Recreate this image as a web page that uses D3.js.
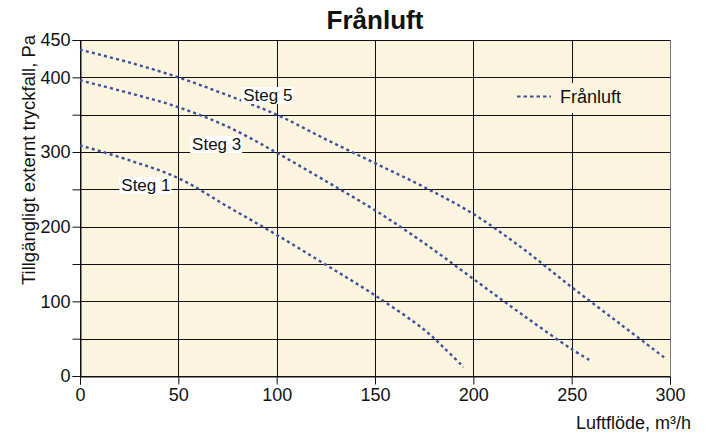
<!DOCTYPE html>
<html><head><meta charset="utf-8">
<script src="https://cdn.jsdelivr.net/npm/d3@7"></script>
<style>body{margin:0;background:#fff}svg{display:block;font-family:"Liberation Sans",Arial,sans-serif}</style>
</head><body>
<svg id="c" width="707" height="437"></svg>
<script>
const title = "Frånluft";
const xLabel = "Luftflöde, m³/h";
const yLabel = "Tillgängligt externt tryckfall, Pa";
const xTicks = [0, 50, 100, 150, 200, 250, 300];
const yTicks = [0, 50, 100, 150, 200, 250, 300, 350, 400, 450];
const yTickLabels = [0, 100, 200, 300, 400, 450];
const seriesNames = ["Steg 1", "Steg 3", "Steg 5"];
const steg1 = [[0,309],[25,289],[50,265],[75,227],[100,189],[125,149],[150,108],[175,62],[185,38],[195,12]];
const steg3 = [[0,396],[25,379],[50,360],[75,334],[100,299],[125,261],[150,222],[175,178],[200,130],[225,82],[250,36],[260,20]];
const steg5 = [[0,437],[25,420],[50,400],[75,376],[100,350],[125,317],[150,285],[175,253],[200,217],[225,171],[250,119],[275,69],[297,25]];
const legendLabel = "Frånluft";

const svg = d3.select("#c");
const x = d3.scaleLinear().domain([0,300]).range([80,670]);
const y = d3.scaleLinear().domain([0,450]).range([376,40]);
const bg = "#fbf4de";
const lineColor = "#3d4f9f";

svg.append("rect").attr("x",x(0)).attr("y",y(450)).attr("width",x(300)-x(0)).attr("height",y(0)-y(450)).attr("fill",bg);

// grid
svg.append("g").selectAll("line").data(yTicks).join("line")
  .attr("x1",x(0)).attr("x2",x(300)).attr("y1",d=>Math.round(y(d))+0.5).attr("y2",d=>Math.round(y(d))+0.5)
  .attr("stroke","#111").attr("stroke-width",1);
svg.append("g").selectAll("line").data(xTicks).join("line")
  .attr("y1",y(0)).attr("y2",y(450)).attr("x1",d=>Math.round(x(d))+0.5).attr("x2",d=>Math.round(x(d))+0.5)
  .attr("stroke",d=>d===300?"#777":"#111").attr("stroke-width",1);

// axes
const xAxis = d3.axisBottom(x).tickValues(xTicks).tickSize(8).tickPadding(4);
const gx = svg.append("g").attr("transform",`translate(0,${Math.round(y(0))+0.5})`).call(xAxis);
gx.select(".domain").attr("stroke","#111");
gx.selectAll(".tick line").attr("stroke","#111");
gx.selectAll("text").attr("font-size",18).attr("font-family","Liberation Sans, Arial, sans-serif").attr("fill","#111");

const yAxis = d3.axisLeft(y).tickValues(yTicks).tickSize(8).tickPadding(2)
  .tickFormat(d=>yTickLabels.includes(d)?d:"");
const gy = svg.append("g").attr("transform",`translate(${Math.round(x(0))+0.5},0)`).call(yAxis);
gy.select(".domain").attr("stroke","#111");
gy.selectAll(".tick line").attr("stroke","#111");
gy.selectAll("text").attr("font-size",18).attr("font-family","Liberation Sans, Arial, sans-serif").attr("fill","#111");

// lines
const line = d3.line().x(d=>x(d[0])).y(d=>y(d[1])).curve(d3.curveCatmullRom.alpha(0.5));
[steg1, steg3, steg5].forEach(s=>{
  svg.append("path").attr("d",line(s)).attr("fill","none").attr("stroke",lineColor)
    .attr("stroke-width",2.4).attr("stroke-dasharray","3,3.2");
});

// Steg labels
const labelData = [
  {name:seriesNames[0], x:x(21), yb:191},
  {name:seriesNames[1], x:x(57), yb:150},
  {name:seriesNames[2], x:x(83), yb:101}
];
labelData.forEach(l=>{
  const t = svg.append("text").attr("x",l.x).attr("y",l.yb).attr("font-size",17).attr("fill","#111").text(l.name);
  const bb = t.node().getBBox();
  svg.insert("rect", function(){return t.node();}).attr("x",bb.x-2).attr("y",bb.y+1).attr("width",bb.width+3).attr("height",bb.height-2).attr("fill","#fff");
});

// legend
svg.append("rect").attr("x",510).attr("y",83).attr("width",120).attr("height",30).attr("fill",bg);
svg.append("line").attr("x1",517).attr("x2",551).attr("y1",96.5).attr("y2",96.5)
  .attr("stroke",lineColor).attr("stroke-width",2).attr("stroke-dasharray","3.5,3");
svg.append("text").attr("x",560).attr("y",103).attr("font-size",18).attr("fill","#111").text(legendLabel);

// titles
svg.append("text").attr("x",(x(0)+x(300))/2).attr("y",29).attr("text-anchor","middle")
  .attr("font-size",26).attr("font-weight","bold").attr("fill","#111").text(title);
svg.append("text").attr("x",691).attr("y",429).attr("text-anchor","end").attr("font-size",18).attr("fill","#111").text(xLabel);
svg.append("text").attr("transform","translate(35,160) rotate(-90)").attr("text-anchor","middle")
  .attr("font-size",18.5).attr("fill","#111").text(yLabel);
</script>
</body></html>
